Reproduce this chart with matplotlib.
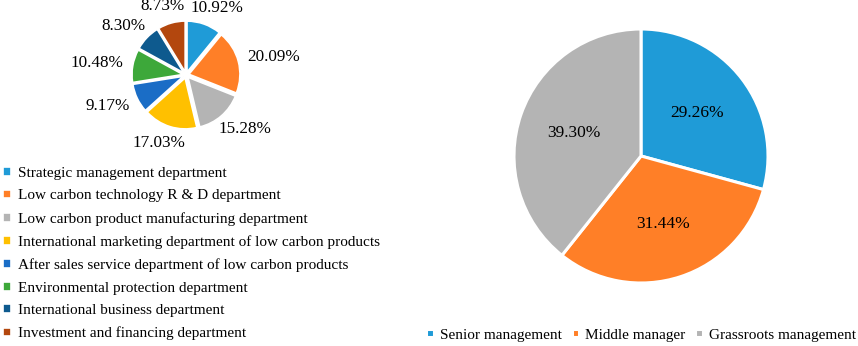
import matplotlib
matplotlib.use("Agg")
import matplotlib.pyplot as plt
import numpy as np

plt.rcParams['font.family'] = ['Liberation Serif', 'DejaVu Serif']

dept_labels = [
    "Strategic management department",
    "Low carbon technology R & D department",
    "Low carbon product manufacturing department",
    "International marketing department of low carbon products",
    "After sales service department of low carbon products",
    "Environmental protection department",
    "International business department",
    "Investment and financing department",
]
dept_values = [10.92, 20.09, 15.28, 17.03, 9.17, 10.48, 8.30, 8.73]
dept_colors = ["#1F9BD7", "#FF7F27", "#B4B4B4", "#FFC000", "#1A6DC6",
               "#3DA83A", "#0E5A8E", "#B3470E"]

level_labels = ["Senior management", "Middle manager", "Grassroots management"]
level_values = [29.26, 31.44, 39.30]
level_colors = ["#1F9BD7", "#FF7F27", "#B4B4B4"]

W, H = 858, 346
fig = plt.figure(figsize=(W / 100, H / 100), dpi=100)
renderer = fig.canvas.get_renderer()


def pie_axes(cx, cy, half):
    ax = fig.add_axes([(cx - half) / W, 1 - (cy + half) / H, 2 * half / W, 2 * half / H])
    ax.axis('off')
    return ax


def set_scale(ax, r, half):
    lim = half / r
    ax.set_xlim(-lim, lim)
    ax.set_ylim(-lim, lim)
    ax.set_aspect('equal')

# Small pie
ax1 = pie_axes(186, 75, 120)
wedges1, _ = ax1.pie(dept_values, colors=dept_colors, startangle=90, counterclock=False,
                     explode=[0.06] * len(dept_values),
                     wedgeprops=dict(edgecolor='white', linewidth=1.2))
set_scale(ax1, 51, 120)
for w, v in zip(wedges1, dept_values):
    ang = np.deg2rad((w.theta1 + w.theta2) / 2)
    c, s = np.cos(ang), np.sin(ang)
    d = 1.26
    t = ax1.text(d * c, d * s, f"{v:.2f}%", ha='center', va='center', fontsize=12.3)
    bb = t.get_window_extent(renderer)
    px, py = ax1.transData.transform((d * c, d * s))
    px += c * bb.width / 2
    py += s * (bb.height / 2 - 1)
    t.set_position(ax1.transData.inverted().transform((px, py)))

# Big pie
ax2 = pie_axes(641, 156, 135)
wedges2, _, autot = ax2.pie(level_values, colors=level_colors, startangle=90, counterclock=False,
                            autopct='%1.2f%%', pctdistance=0.56,
                            wedgeprops=dict(edgecolor='white', linewidth=2.2),
                            textprops=dict(fontsize=12.5))
set_scale(ax2, 127, 135)

fig.legend(wedges1, dept_labels, loc='upper left', bbox_to_anchor=(3 / W, 1 - 167 / H),
           frameon=False, fontsize=11.0, handlelength=0.5, handleheight=0.5,
           handletextpad=0.5, labelspacing=0.62, borderpad=0, borderaxespad=0)

fig.legend(wedges2, level_labels, loc='center left', bbox_to_anchor=(426 / W, 1 - 335 / H),
           ncol=3, frameon=False, fontsize=11.0, handlelength=0.5, handleheight=0.5,
           handletextpad=0.4, columnspacing=0.65, borderpad=0, borderaxespad=0)

fig.savefig("out.png", dpi=100)
